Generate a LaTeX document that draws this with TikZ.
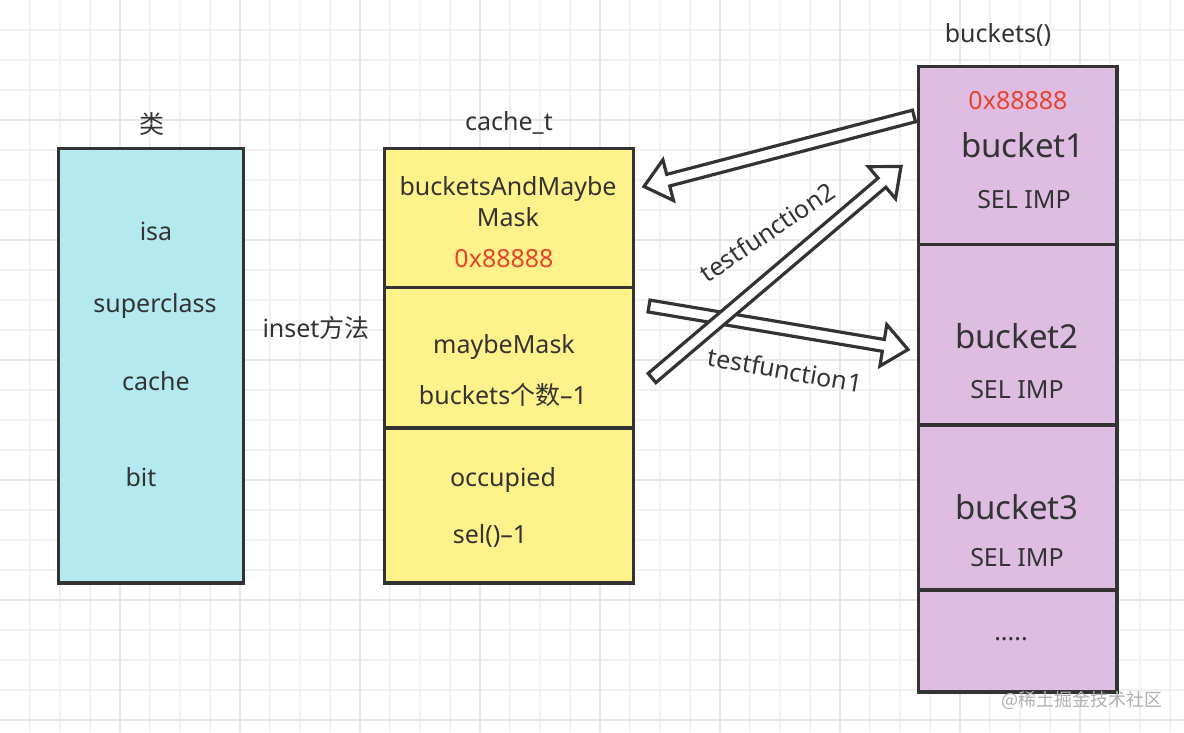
\documentclass[tikz,border=0pt]{standalone}
\usepackage{fontspec}
\setmainfont{Noto Sans}
\newfontfamily\cjk{Noto Sans CJK SC}
\usetikzlibrary{calc}
\definecolor{ink}{HTML}{333333}
\definecolor{cyanbox}{HTML}{B4E9EF}
\definecolor{yellowbox}{HTML}{FFF28A}
\definecolor{lilac}{HTML}{DFBDE3}
\definecolor{redtxt}{HTML}{E8432D}
\definecolor{gridminor}{HTML}{F0F0F0}
\definecolor{gridmajor}{HTML}{E7E7E7}
\definecolor{wmark}{HTML}{B0B0B0}
\tikzset{
  box/.style={draw=ink, line width=3.5pt, inner sep=0pt, outer sep=0pt, anchor=north west},
  divider/.style={draw=ink, line width=3.5pt},
  txt/.style={font=\fontsize{25}{30}\selectfont, text=ink, anchor=base, inner sep=0pt},
  bigtxt/.style={font=\fontsize{33}{40}\selectfont, text=ink, anchor=base, inner sep=0pt},
  hextxt/.style={txt, text=redtxt},
  lbl/.style={font=\fontsize{25}{30}\selectfont, text=ink, inner sep=0pt},
  barrow/.style={draw=ink, fill=white, line width=3.2pt, line join=miter},
}
\newcommand\blockarrow[2]{%
  \coordinate (#1h) at ($(#2)!25pt!(#1)$);
  \draw[barrow] ($(#1)!6pt!90:(#2)$) -- ($(#1h)!6pt!-90:(#1)$) -- ($(#1h)!21pt!-90:(#1)$)
    -- (#2) -- ($(#1h)!21pt!90:(#1)$) -- ($(#1h)!6pt!90:(#1)$) -- ($(#1)!6pt!-90:(#2)$) -- cycle;
}
\begin{document}
\begin{tikzpicture}[x=1pt,y=-1pt]
\useasboundingbox (0,0) rectangle (1184,732);
\fill[white] (0,0) rectangle (1184,732);
% grid
\foreach \x in {30,60,...,1170} \draw[gridminor, line width=1.2pt] (\x,0) -- (\x,732);
\foreach \y in {30,60,...,720} \draw[gridminor, line width=1.2pt] (0,\y) -- (1184,\y);
\foreach \x in {120,240,...,1120} \draw[gridmajor, line width=1.2pt] (\x,0) -- (\x,732);
\foreach \y in {120,240,...,720} \draw[gridmajor, line width=1.2pt] (0,\y) -- (1184,\y);

% class box
\node[box, fill=cyanbox, minimum width=185pt, minimum height=434.5pt] (cls) at (58.5,148.5) {};
\node[txt] (clstitle) at (152,133) {\cjk 类};
\node[txt] (isa) at (156,240) {isa};
\node[txt] (super) at (155,312) {superclass};
\node[txt] (cachef) at (156,390) {cache};
\node[txt] (bit) at (141,486) {bit};

\node[txt] (inset) at (316,337) {inset{\cjk 方法}};

% cache_t box
\node[box, fill=yellowbox, minimum width=249pt, minimum height=434.5pt] (cache) at (384.5,148.5) {};
\draw[divider] (cache.west |- 0,287.5) -- (cache.east |- 0,287.5);
\draw[divider] (cache.west |- 0,428) -- (cache.east |- 0,428);
\node[txt] (cachetitle) at (509,130) {cache\_t};
\node[txt] (bamm1) at (508,195) {bucketsAndMaybe};
\node[txt] (bamm2) at (508,226) {Mask};
\node[hextxt] (hex1) at (504,267) {0x88888};
\node[txt] (mm) at (504,353) {maybeMask};
\node[txt] (bcount) at (503,404) {buckets{\cjk 个数}–1};
\node[txt] (occ) at (503,486) {occupied};
\node[txt] (sel) at (490,543) {sel()–1};

% buckets box
\node[box, fill=lilac, minimum width=198.5pt, minimum height=625.5pt] (bkt) at (918.5,66.5) {};
\draw[divider] (bkt.west |- 0,244.5) -- (bkt.east |- 0,244.5);
\draw[divider] (bkt.west |- 0,425) -- (bkt.east |- 0,425);
\draw[divider] (bkt.west |- 0,590) -- (bkt.east |- 0,590);
\node[txt] (bkttitle) at (998,42) {buckets()};
\node[hextxt] (hex2) at (1018,109) {0x88888};
\node[bigtxt] (b1) at (1023,157) {bucket1};
\node[txt] (si1) at (1024,208) {SEL IMP};
\node[bigtxt] (b2) at (1017,348) {bucket2};
\node[txt] (si2) at (1017,398) {SEL IMP};
\node[bigtxt] (b3) at (1017,519) {bucket3};
\node[txt] (si3) at (1017,566) {SEL IMP};
\node[txt] (dots) at (1011,640) {.....};

% block arrows
\coordinate (aTail) at (914,116);
\coordinate (aTip) at (644,186.5);
\coordinate (bTail) at (649,306);
\coordinate (bTip) at (908,349.5);
\coordinate (cTail) at (652,378);
\coordinate (cTip) at (901,166.5);
\blockarrow{aTail}{aTip}
\blockarrow{bTail}{bTip}
\blockarrow{cTail}{cTip}
\node[lbl, rotate=34] (tf2) at (767,232) {testfunction2};
\node[lbl, rotate=-10] (tf1) at (785,370) {testfunction1};

% watermark
\node[font=\cjk\fontsize{18}{20}\selectfont, text=wmark, inner sep=0pt] (wm) at (1082,700) {@稀土掘金技术社区};
\end{tikzpicture}
\end{document}
